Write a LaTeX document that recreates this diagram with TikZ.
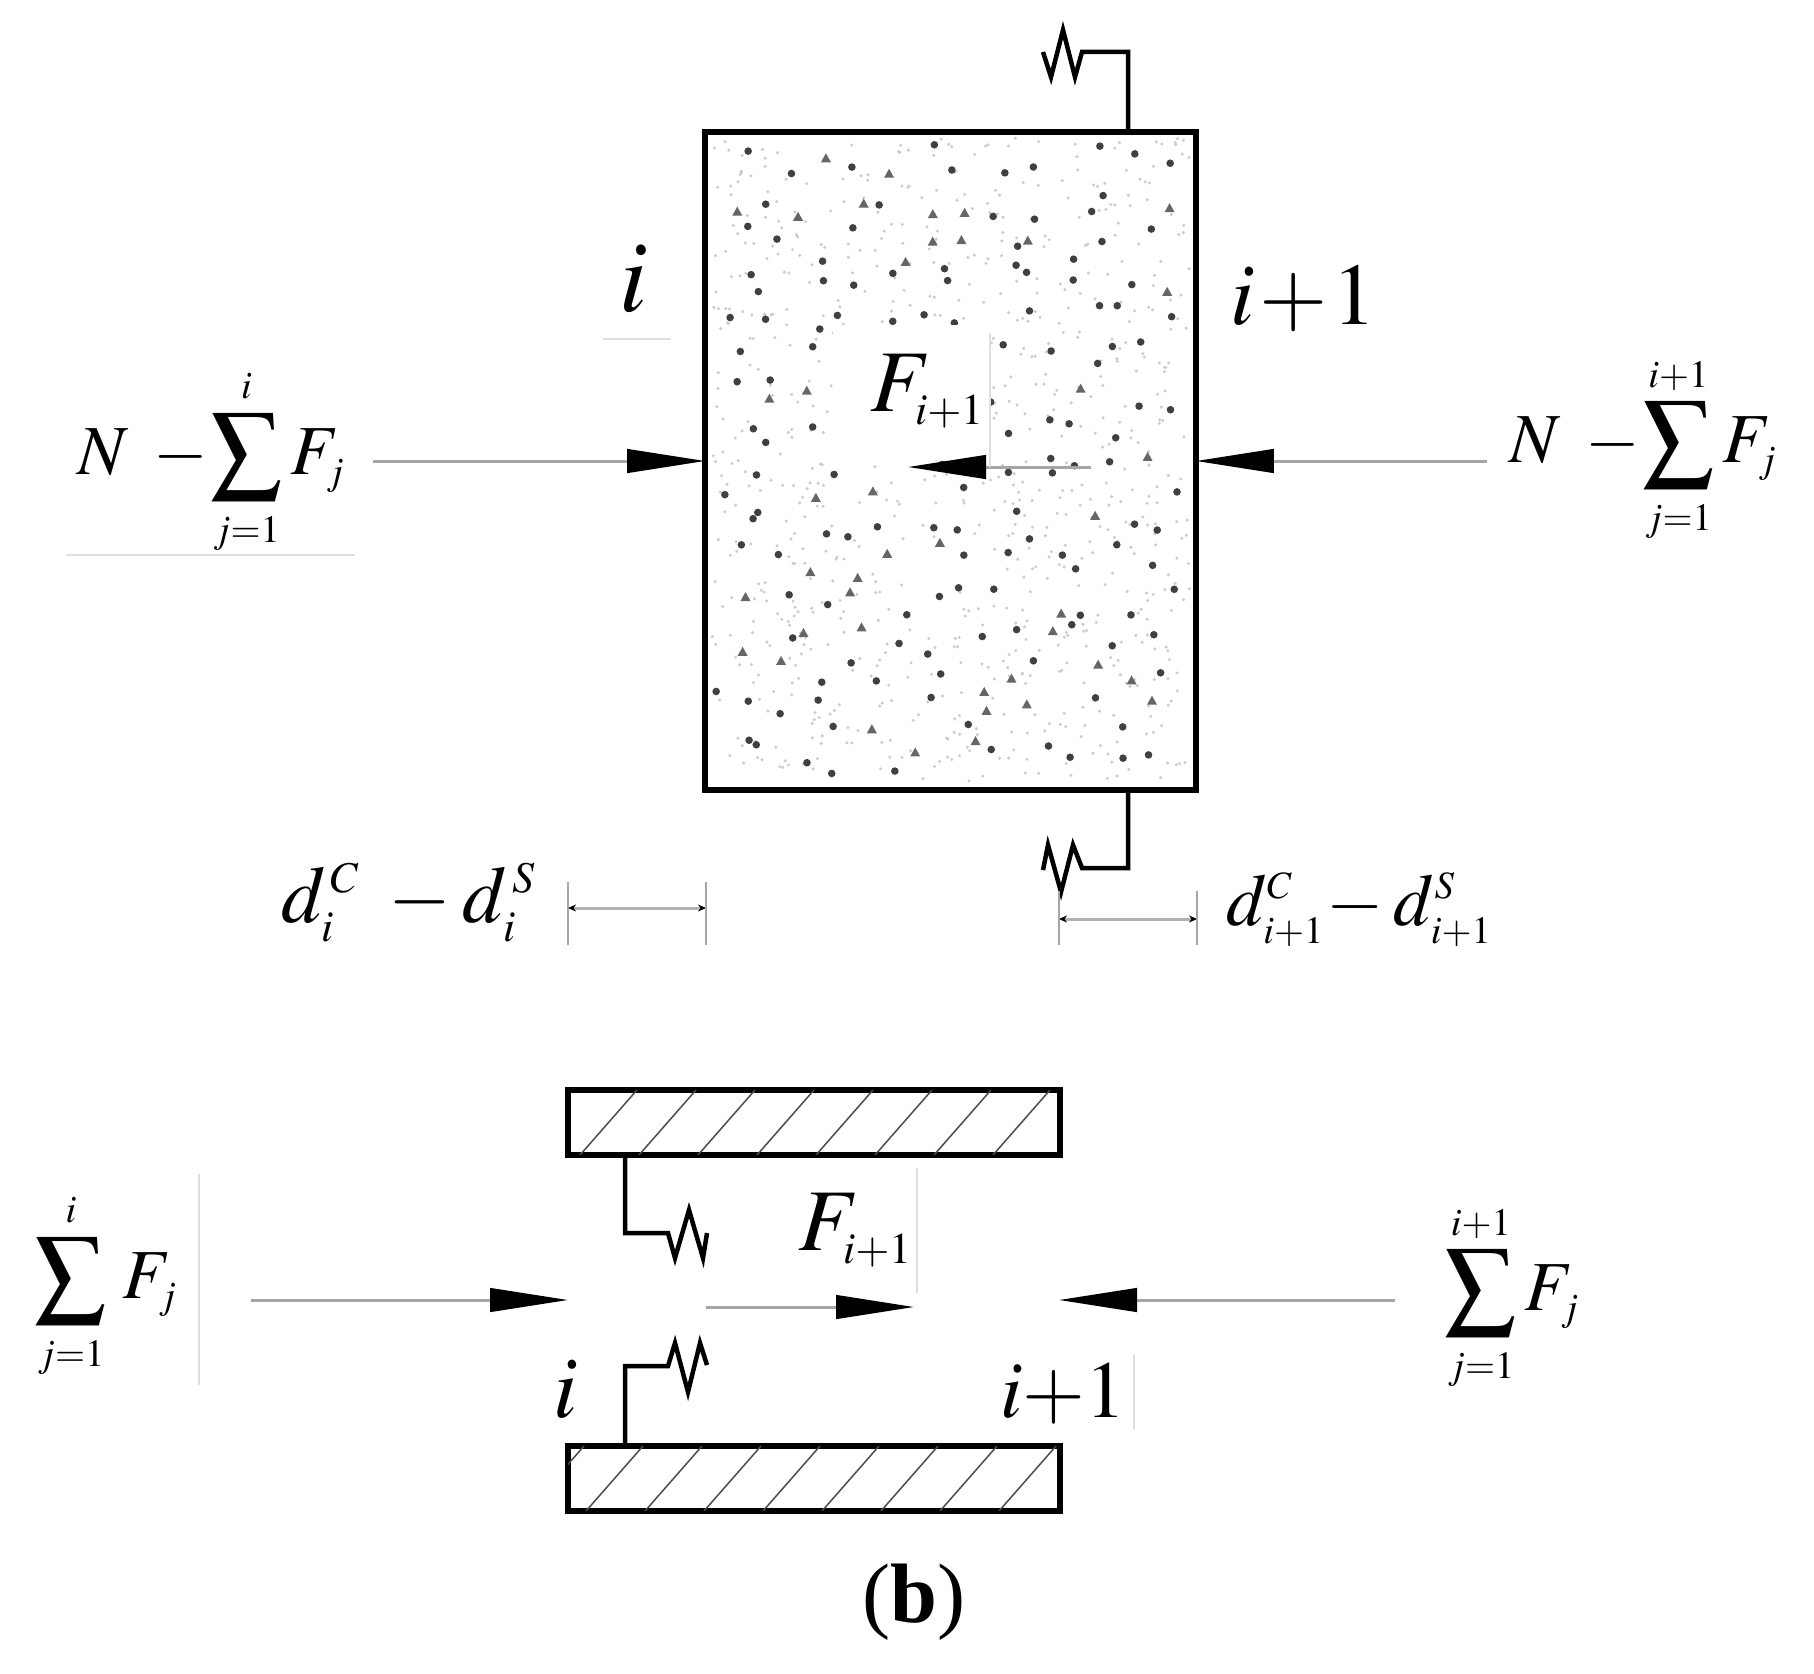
\documentclass[tikz,border=0pt]{standalone}
\usepackage{mathptmx}
\usepackage[no-math]{fontspec}
\setmainfont{Liberation Serif}
\usepackage{tikz}
\usetikzlibrary{arrows.meta, calc}
\DeclareMathSizes{50}{50}{25}{20}
\DeclareMathSizes{46}{46}{25}{18}
\DeclareMathSizes{42}{42}{22}{16}
\DeclareMathSizes{40}{40}{22}{16}
\newcommand{\largefs}{\fontsize{50}{54}\selectfont}
\newcommand{\lowfs}{\fontsize{46}{50}\selectfont}
\newcommand{\dimfs}{\fontsize{42}{46}\selectfont}
\newcommand{\loadfs}{\fontsize{40}{44}\selectfont}
\tikzset{
	plate/.style={draw, line width=0.12cm, minimum width=9.84cm, minimum height=1.3cm, inner sep=0pt, outer sep=0pt},
	spring/.style={line width=0.09cm, line join=miter},
	force/.style={gray!70, line width=0.06cm, -{Triangle[length=1.56cm, width=0.47cm, color=black]}},
	faint/.style={gray!25, line width=0.03cm},
	dimline/.style={gray!60, line width=0.06cm, {Stealth[length=0.16cm, width=0.14cm, color=black]}-{Stealth[length=0.16cm, width=0.14cm, color=black]}},
	tick/.style={gray!70, line width=0.03cm},
	hatchline/.style={gray!60!black, line width=0.03cm},
	big/.style={font=\largefs, inner sep=0pt},
	low/.style={font=\lowfs, inner sep=0pt},
	load/.style={font=\loadfs, inner sep=0pt}
}

\begin{document}
\begin{tikzpicture}[x=0.02cm, y=-0.02cm]
	\useasboundingbox (0,0) rectangle (1814,1673);
	\pgfmathsetseed{4177}

	% concrete column with its aggregate
	\foreach \k in {1,...,800}{
		\pgfmathsetmacro{\px}{712+rnd*478}
		\pgfmathsetmacro{\py}{138+rnd*646}
		\fill[gray!40] (\px,\py) circle (1.7);
	}
	\foreach \ix in {0,...,11}{
		\foreach \iy in {0,...,15}{
			\pgfmathsetmacro{\px}{716+(\ix+rnd)*38.5}
			\pgfmathsetmacro{\py}{144+(\iy+rnd)*39.5}
			\pgfmathsetmacro{\pick}{rnd}
			\ifdim \pick pt<0.2pt
				\fill[gray!80!black] (\px-5,\py+4) -- (\px,\py-5) -- (\px+5,\py+4) -- cycle;
			\else
				\fill[gray!50!black] (\px,\py) circle (3.8);
			\fi
		}
	}
	\fill[white] (833,325) rectangle (990,460);
	\node[big, inner sep=0pt, anchor=base west] (Fmid) at (870,411) {$F_{i{+}1}$};
	\node[draw, line width=0.12cm, minimum width=9.82cm, minimum height=13.16cm, inner sep=0pt, outer sep=0pt] (column) at (950.5,461) {};

	% springs of the column
	\draw[spring] (column.north -| 1128,0) -- (1128,52) -- (1082,52) -- (1075,77) -- (1063,30) -- (1051,77) -- (1043,52);
	\draw[spring] (column.south -| 1128,0) -- (1128,868) -- (1082,868) -- (1073,845) -- (1061,892) -- (1048,845) -- (1043,870);

	% labels
	\node[big, font=\fontsize{58}{60}\selectfont, anchor=base] (ileft) at (634,311) {$i$};
	\node[big, anchor=base west] (iright) at (1230,324) {$i\mskip1mu{+}\mskip1mu1$};
	\node[load, anchor=center] (Nleft) at (211,462) {$N\;-\!\displaystyle\sum_{j=1}^{i}F_j$};
	\node[load, anchor=center] (Nright) at (1643,450) {$N\;-\!\displaystyle\sum_{j=1}^{i{+}1}F_j$};
	\node[low, anchor=base west] (dleft) at (281,922) {$d_i^{\,C}\mskip4mu-d_i^{\,S}$};
	\node[font=\dimfs, inner sep=0pt, anchor=base west] (dright) at (1226,925) {$d_{i{+}1}^C\mskip-2mu-d_{i{+}1}^S$};

	% loads on the column
	\coordinate (tailL) at (373,461);
	\coordinate (tailR) at (1487,461);
	\coordinate (tailM) at (1091,467);
	\coordinate (headM) at (908,467);
	\draw[force] (tailL) -- (column.west);
	\draw[force] (tailR) -- (column.east);
	\draw[force] (tailM) -- (headM);

	% dimension marks
	\coordinate (dimA) at (568,908);
	\coordinate (dimB) at (706,908);
	\coordinate (dimC) at (1059,919);
	\coordinate (dimD) at (1197,919);
	\draw[dimline] (dimA) -- (dimB);
	\draw[dimline] (dimC) -- (dimD);
	\foreach \dimname/\up/\dn in {dimA/26/37, dimB/26/37, dimC/28/26, dimD/28/26}{
		\draw[tick] ($(\dimname)+(0,-\up)$) -- ($(\dimname)+(0,\dn)$);
	}

	% faint leftovers
	\coordinate (scrA) at (603,339);
	\coordinate (scrB) at (671,339);
	\coordinate (scrC) at (66,555);
	\coordinate (scrD) at (355,555);
	\coordinate (scrE) at (990,333);
	\coordinate (scrF) at (990,467);
	\coordinate (scrG) at (199,1174);
	\coordinate (scrH) at (199,1385);
	\coordinate (scrI) at (917,1168);
	\coordinate (scrJ) at (917,1293);
	\coordinate (scrK) at (1134,1354);
	\coordinate (scrL) at (1134,1430);
	\draw[faint] (scrA) -- (scrB);
	\draw[faint] (scrC) -- (scrD);
	\draw[faint] (scrE) -- (scrF);
	\draw[faint] (scrG) -- (scrH);
	\draw[faint] (scrI) -- (scrJ);
	\draw[faint] (scrK) -- (scrL);

	% supports
	\node[plate] (upper) at (814,1122) {};
	\node[plate] (lower) at (814,1478) {};
	\begin{scope}
		\clip (upper.south west) rectangle (upper.north east);
		\foreach \k in {0,...,7}{
			\draw[hatchline] (580+59*\k,1155) -- (637+59*\k,1090);
		}
	\end{scope}
	\begin{scope}
		\clip (lower.south west) rectangle (lower.north east);
		\foreach \k in {-1,...,7}{
			\draw[hatchline] (586+59*\k,1511) -- (643+59*\k,1446);
		}
	\end{scope}

	\draw[spring] (upper.south -| 625,0) -- (625,1233) -- (668,1233) -- (675,1258) -- (689,1210) -- (703,1258) -- (707,1233);
	\draw[spring] (lower.north -| 625,0) -- (625,1366) -- (668,1366) -- (675,1343) -- (688,1392) -- (700,1343) -- (707,1365);

	\node[load, anchor=center] (sumL) at (106,1286) {$\displaystyle\sum_{j=1}^{i}\,F_j$};
	\node[load, anchor=center] (sumR) at (1512,1298) {$\displaystyle\sum_{j=1}^{i{+}1}F_j$};
	\node[big, anchor=base west] (Flow) at (798,1250) {$F_{i{+}1}$};
	\node[big, anchor=base west] (ilow) at (553,1417) {$i$};
	\node[low, anchor=base west] (irlow) at (1000,1417) {$i{+}1$};

	\coordinate (tailA) at (251,1300);
	\coordinate (headA) at (568,1300);
	\coordinate (tailB) at (706,1307);
	\coordinate (headB) at (914,1307);
	\coordinate (tailC) at (1395,1300);
	\coordinate (headC) at (1059,1300);
	\draw[force] (tailA) -- (headA);
	\draw[force] (tailB) -- (headB);
	\draw[force] (tailC) -- (headC);

	\node[font=\fontsize{48}{52}\selectfont, inner sep=0pt] (caption) at (914,1602) {(\textbf{b})};
\end{tikzpicture}
\end{document}
